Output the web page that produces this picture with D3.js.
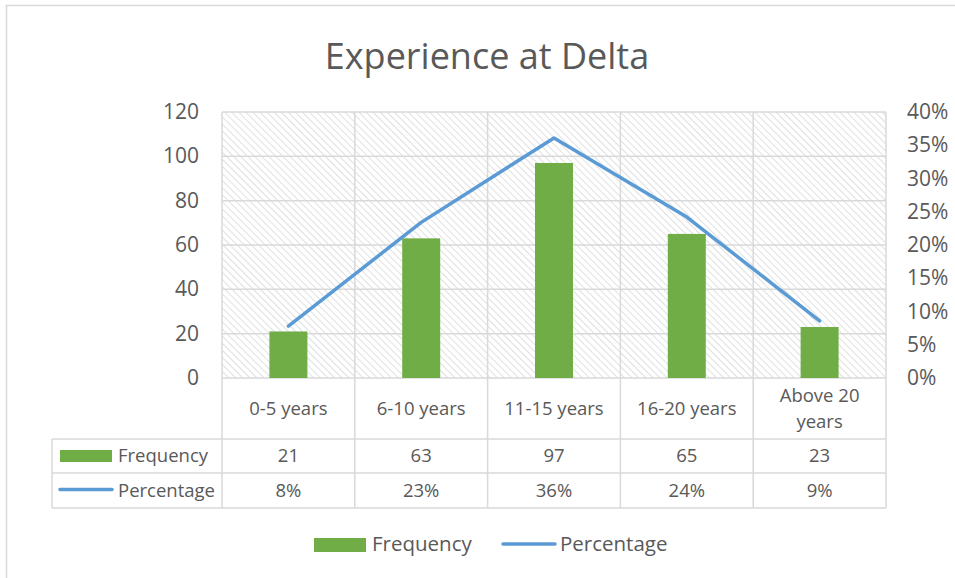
<!DOCTYPE html>
<html>
<head>
<meta charset="utf-8">
<script src="https://cdn.jsdelivr.net/npm/d3@7"></script>
<style>
  body { margin: 0; background: #fff; }
  svg text { font-family: "Open Sans", sans-serif; fill: #595959; }
</style>
</head>
<body>
<div id="chart"></div>
<script>
// Experience at Delta - combo chart with data table

const categories = ["0-5 years", "6-10 years", "11-15 years", "16-20 years", "Above 20 years"];
const frequency = [21, 63, 97, 65, 23];
const percentage = [0.078, 0.234, 0.361, 0.242, 0.086];
const pctLabels = ["8%", "23%", "36%", "24%", "9%"];
const leftTicks = [0, 20, 40, 60, 80, 100, 120];
const rightTicks = [0, 0.05, 0.10, 0.15, 0.20, 0.25, 0.30, 0.35, 0.40];

const width = 955, height = 578;
const plot = { left: 222, right: 886, top: 112, bottom: 378 };
const gridColor = "#d9d9d9";
const green = "#70ad47", blue = "#5b9bd5";

const svg = d3.select("#chart").append("svg")
    .attr("width", width)
    .attr("height", height);

// hatch pattern for plot area
const defs = svg.append("defs");
const pat = defs.append("pattern")
    .attr("id", "hatch")
    .attr("patternUnits", "userSpaceOnUse")
    .attr("width", 5)
    .attr("height", 5)
    .attr("patternTransform", "rotate(45)");
pat.append("rect").attr("width", 5).attr("height", 5).attr("fill", "#fff");
pat.append("line")
    .attr("x1", 0).attr("y1", 0).attr("x2", 5).attr("y2", 0)
    .attr("stroke", "#e0e0e0")
    .attr("stroke-width", 2);

// chart frame
svg.append("rect")
    .attr("x", 6.5).attr("y", 5.5)
    .attr("width", 1000).attr("height", 1000)
    .attr("fill", "#fff")
    .attr("stroke", gridColor)
    .attr("stroke-width", 1.5);

// title
svg.append("text")
    .attr("x", 487)
    .attr("y", 69)
    .attr("text-anchor", "middle")
    .attr("font-size", 36)
    .text("Experience at Delta");

// scales
const x = d3.scaleBand()
    .domain(categories)
    .range([plot.left, plot.right])
    .paddingInner(0);
const yLeft = d3.scaleLinear().domain([0, 120]).range([plot.bottom, plot.top]);
const yRight = d3.scaleLinear().domain([0, 0.4]).range([plot.bottom, plot.top]);

// plot background
svg.append("rect")
    .attr("x", plot.left).attr("y", plot.top)
    .attr("width", plot.right - plot.left)
    .attr("height", plot.bottom - plot.top)
    .attr("fill", "url(#hatch)");

// horizontal gridlines
svg.append("g")
    .selectAll("line")
    .data(leftTicks)
    .join("line")
    .attr("x1", plot.left).attr("x2", plot.right)
    .attr("y1", d => yLeft(d)).attr("y2", d => yLeft(d))
    .attr("stroke", gridColor)
    .attr("stroke-width", 1.5);

// vertical lines for category boundaries (plot + table)
const rowFreqTop = 439, rowPctTop = 473, tableBottom = 508;
const tableLeft = 52;

const bounds = categories.map(c => x(c)).concat([plot.right]);
svg.append("g")
    .selectAll("line")
    .data(bounds)
    .join("line")
    .attr("x1", d => d).attr("x2", d => d)
    .attr("y1", plot.top).attr("y2", tableBottom)
    .attr("stroke", gridColor)
    .attr("stroke-width", 1.5);

// table horizontal lines
[rowFreqTop, rowPctTop, tableBottom].forEach(yy => {
    svg.append("line")
        .attr("x1", tableLeft).attr("x2", plot.right)
        .attr("y1", yy).attr("y2", yy)
        .attr("stroke", gridColor)
        .attr("stroke-width", 1.5);
});
svg.append("line")
    .attr("x1", tableLeft).attr("x2", tableLeft)
    .attr("y1", rowFreqTop).attr("y2", tableBottom)
    .attr("stroke", gridColor)
    .attr("stroke-width", 1.5);

// bars
const barW = 38;
svg.append("g")
    .selectAll("rect")
    .data(frequency)
    .join("rect")
    .attr("x", (d, i) => x(categories[i]) + x.bandwidth() / 2 - barW / 2)
    .attr("y", d => yLeft(d))
    .attr("width", barW)
    .attr("height", d => yLeft(0) - yLeft(d))
    .attr("fill", green);

// percentage line
const line = d3.line()
    .x((d, i) => x(categories[i]) + x.bandwidth() / 2)
    .y(d => yRight(d));
svg.append("path")
    .datum(percentage)
    .attr("d", line)
    .attr("fill", "none")
    .attr("stroke", blue)
    .attr("stroke-width", 3.5)
    .attr("stroke-linecap", "round")
    .attr("stroke-linejoin", "round");

// left axis labels
svg.append("g")
    .selectAll("text")
    .data(leftTicks)
    .join("text")
    .attr("x", 199)
    .attr("y", d => yLeft(d) + 7)
    .attr("text-anchor", "end")
    .attr("font-size", 21)
    .text(d => d);

// right axis labels
const pctFmt = d3.format(".0%");
svg.append("g")
    .selectAll("text")
    .data(rightTicks)
    .join("text")
    .attr("x", 907)
    .attr("y", d => yRight(d) + 7)
    .attr("text-anchor", "start")
    .attr("font-size", 21)
    .text(d => pctFmt(d));

// category labels
const catG = svg.append("g");
categories.forEach(c => {
    const cx = x(c) + x.bandwidth() / 2;
    const t = catG.append("text")
        .attr("x", cx)
        .attr("text-anchor", "middle")
        .attr("font-size", 18.5);
    if (c === "Above 20 years") {
        t.append("tspan").attr("x", cx).attr("y", 402).text("Above 20");
        t.append("tspan").attr("x", cx).attr("y", 428).text("years");
    } else {
        t.attr("y", 415).text(c);
    }
});

// table rows
const rowFreqMid = (rowFreqTop + rowPctTop) / 2;
const rowPctMid = (rowPctTop + tableBottom) / 2;
svg.append("g")
    .selectAll("text")
    .data(frequency)
    .join("text")
    .attr("x", (d, i) => x(categories[i]) + x.bandwidth() / 2)
    .attr("y", rowFreqMid + 6)
    .attr("text-anchor", "middle")
    .attr("font-size", 18.5)
    .text(d => d);
svg.append("g")
    .selectAll("text")
    .data(pctLabels)
    .join("text")
    .attr("x", (d, i) => x(categories[i]) + x.bandwidth() / 2)
    .attr("y", rowPctMid + 6)
    .attr("text-anchor", "middle")
    .attr("font-size", 18.5)
    .text(d => d);

// table legend keys
svg.append("rect")
    .attr("x", 60).attr("y", rowFreqMid - 6)
    .attr("width", 52).attr("height", 12)
    .attr("fill", green);
svg.append("text")
    .attr("x", 118).attr("y", rowFreqMid + 6)
    .attr("font-size", 18.5)
    .text("Frequency");
svg.append("line")
    .attr("x1", 60).attr("x2", 112)
    .attr("y1", rowPctMid - 1).attr("y2", rowPctMid - 1)
    .attr("stroke", blue)
    .attr("stroke-width", 3.5)
    .attr("stroke-linecap", "round");
svg.append("text")
    .attr("x", 118).attr("y", rowPctMid + 6)
    .attr("font-size", 18.5)
    .text("Percentage");

// bottom legend
const legend = svg.append("g");
legend.append("rect")
    .attr("x", 314).attr("y", 538)
    .attr("width", 52).attr("height", 14)
    .attr("fill", green);
legend.append("text")
    .attr("x", 372).attr("y", 551)
    .attr("font-size", 20.5)
    .text("Frequency");
legend.append("line")
    .attr("x1", 503).attr("x2", 555)
    .attr("y1", 544).attr("y2", 544)
    .attr("stroke", blue)
    .attr("stroke-width", 3.5)
    .attr("stroke-linecap", "round");
legend.append("text")
    .attr("x", 560).attr("y", 551)
    .attr("font-size", 20.5)
    .text("Percentage");
</script>
</body>
</html>
